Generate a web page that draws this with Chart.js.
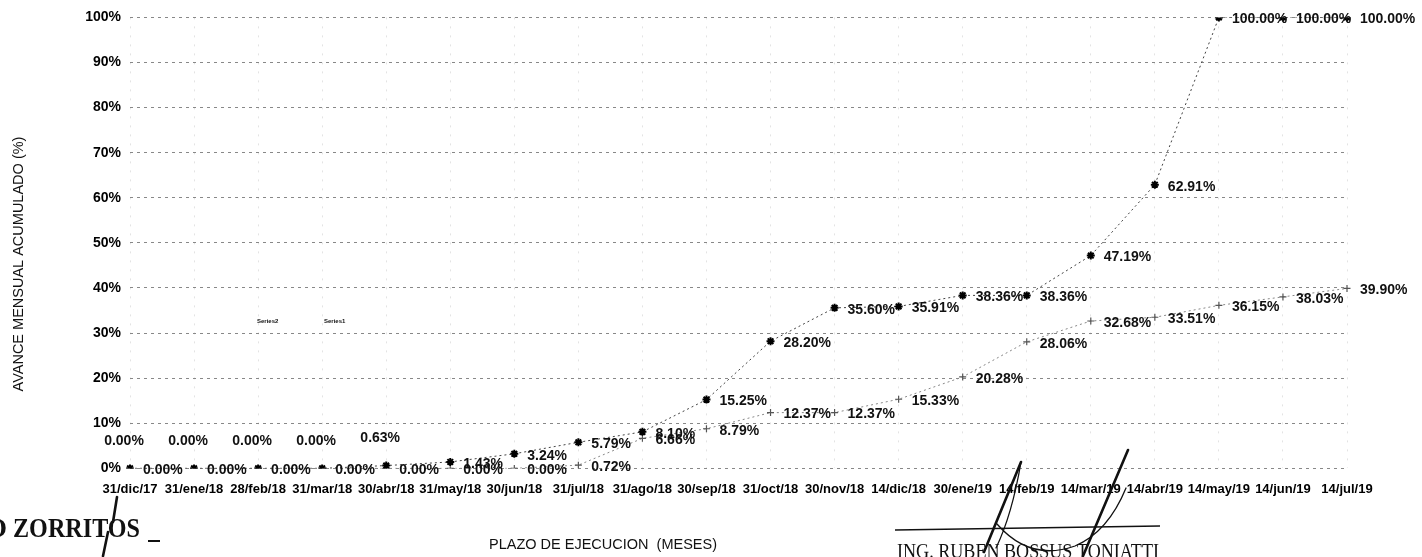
<!DOCTYPE html>
<html>
<head>
<meta charset="utf-8">
<script src="https://cdn.jsdelivr.net/npm/chart.js@4.4.1/dist/chart.umd.min.js"></script>
<style>
  html, body { margin: 0; padding: 0; background: #fff; }
  #wrap { width: 1422px; height: 557px; }
</style>
</head>
<body>
<div id="wrap"><canvas id="avance" width="1422" height="557"></canvas></div>
<script>
// fechas de corte (eje x)
var fechas = ['31/dic/17', '31/ene/18', '28/feb/18', '31/mar/18', '30/abr/18', '31/may/18',
              '30/jun/18', '31/jul/18', '31/ago/18', '30/sep/18', '31/oct/18', '30/nov/18',
              '14/dic/18', '30/ene/19', '14/feb/19', '14/mar/19', '14/abr/19', '14/may/19',
              '14/jun/19', '14/jul/19'];

// avance acumulado (%)
var avanceProgramado = [0.00, 0.00, 0.00, 0.00, 0.63, 1.43, 3.24, 5.79, 8.10, 15.25,
                        28.20, 35.60, 35.91, 38.36, 38.36, 47.19, 62.91, 100.00, 100.00, 100.00];
var avanceEjecutado  = [0.00, 0.00, 0.00, 0.00, 0.00, 0.00, 0.00, 0.72, 6.66, 8.79,
                        12.37, 12.37, 15.33, 20.28, 28.06, 32.68, 33.51, 36.15, 38.03, 39.90];

var fuente = '"Liberation Sans", Arial, sans-serif';

// etiquetas de valor junto a cada punto
var etiquetas = {
  id: 'etiquetas',
  afterDatasetsDraw: function(chart) {
    var ctx = chart.ctx;
    ctx.save();
    ctx.font = 'bold 14px ' + fuente;
    ctx.fillStyle = '#111';
    ctx.textBaseline = 'middle';
    chart.data.datasets.forEach(function(ds, i) {
      chart.getDatasetMeta(i).data.forEach(function(pt, j) {
        var v = ds.data[j];
        var txt = v.toFixed(2) + '%';
        if (i === 0 && v < 1) {
          ctx.textAlign = 'center';
          ctx.fillText(txt, pt.x - 6, pt.y - 27);
        } else {
          ctx.textAlign = 'left';
          ctx.fillText(txt, pt.x + 13, pt.y + 2);
        }
      });
    });
    ctx.restore();
  }
};

// titulos, pie de lamina y firmas
var lamina = {
  id: 'lamina',
  afterDraw: function(chart) {
    var ctx = chart.ctx;
    ctx.save();
    ctx.fillStyle = '#111';

    // titulo eje y
    ctx.save();
    ctx.translate(19, 264);
    ctx.rotate(-Math.PI / 2);
    ctx.font = '14.5px ' + fuente;
    ctx.textAlign = 'center';
    ctx.textBaseline = 'middle';
    ctx.fillText('AVANCE MENSUAL ACUMULADO (%)', 0, 0);
    ctx.restore();

    // titulo eje x
    ctx.font = '14.5px ' + fuente;
    ctx.textAlign = 'center';
    ctx.textBaseline = 'middle';
    ctx.fillText('PLAZO DE EJECUCION  (MESES)', 603, 545);

    // leyenda fantasma
    ctx.font = 'bold 6px ' + fuente;
    ctx.textAlign = 'left';
    ctx.fillText('Series2', 257, 321);
    ctx.fillText('Series1', 324, 321);

    // pie izquierdo
    ctx.font = 'bold 27px "Liberation Serif", "Times New Roman", serif';
    ctx.textBaseline = 'alphabetic';
    ctx.textAlign = 'right';
    ctx.fillText('PROYECTO', 7, 537);
    ctx.textAlign = 'left';
    ctx.fillText('ZORRITOS', 13, 537, 127);
    ctx.fillRect(148, 540, 12, 2);

    // pie derecho
    ctx.font = '21px "Liberation Serif", "Times New Roman", serif';
    ctx.fillText('ING. RUBEN BOSSUS TONIATTI', 897, 558, 262);
    ctx.strokeStyle = '#111';
    ctx.lineWidth = 1.6;
    ctx.beginPath();
    ctx.moveTo(895, 530);
    ctx.lineTo(1160, 526);
    ctx.stroke();

    // firmas
    ctx.lineCap = 'round';
    ctx.lineWidth = 2.6;
    ctx.beginPath();
    ctx.moveTo(984, 552); ctx.lineTo(1021, 462);
    ctx.moveTo(1083, 556); ctx.lineTo(1128, 450);
    ctx.moveTo(117, 497); ctx.lineTo(113, 522);
    ctx.moveTo(108, 532); ctx.lineTo(103, 556);
    ctx.stroke();
    ctx.lineWidth = 1.3;
    ctx.beginPath();
    ctx.moveTo(1021, 462);
    ctx.quadraticCurveTo(1012, 515, 996, 548);
    ctx.moveTo(997, 524);
    ctx.quadraticCurveTo(1030, 562, 1075, 546);
    ctx.quadraticCurveTo(1108, 532, 1126, 488);
    ctx.stroke();
    ctx.restore();
  }
};

new Chart(document.getElementById('avance').getContext('2d'), {
  type: 'line',
  data: {
    labels: fechas,
    datasets: [
      {
        label: 'Series1',
        data: avanceProgramado,
        borderColor: '#444',
        borderWidth: 1,
        borderDash: [2, 3],
        tension: 0,
        pointStyle: 'star',
        pointRadius: 4,
        pointBorderWidth: 2,
        pointBorderColor: '#000',
        pointBackgroundColor: '#000'
      },
      {
        label: 'Series2',
        data: avanceEjecutado,
        borderColor: '#888',
        borderWidth: 1,
        borderDash: [2, 3],
        tension: 0,
        pointStyle: 'cross',
        pointRadius: 3.5,
        pointBorderWidth: 1.2,
        pointBorderColor: '#555',
        pointBackgroundColor: '#555'
      }
    ]
  },
  options: {
    responsive: false,
    animation: false,
    layout: { padding: { top: 13, right: 75, bottom: 47, left: 0 } },
    plugins: { legend: { display: false }, tooltip: { enabled: false } },
    scales: {
      x: {
        offset: false,
        border: { display: false, dash: [2, 7] },
        grid: { color: 'rgba(0,0,0,0.11)', drawTicks: false },
        ticks: {
          autoSkip: false, maxRotation: 0, minRotation: 0, padding: 13,
          color: '#000', font: { family: fuente, size: 13, weight: 'bold' }
        }
      },
      y: {
        min: 0, max: 100,
        border: { display: false, dash: [3, 4] },
        grid: { color: '#888', drawTicks: false },
        ticks: {
          stepSize: 10, padding: 9, color: '#000',
          font: { family: fuente, size: 14, weight: 'bold' },
          callback: function(v) { return v + '%'; }
        },
        afterFit: function(s) { s.width = 130; }
      }
    }
  },
  plugins: [etiquetas, lamina]
});
</script>
</body>
</html>
